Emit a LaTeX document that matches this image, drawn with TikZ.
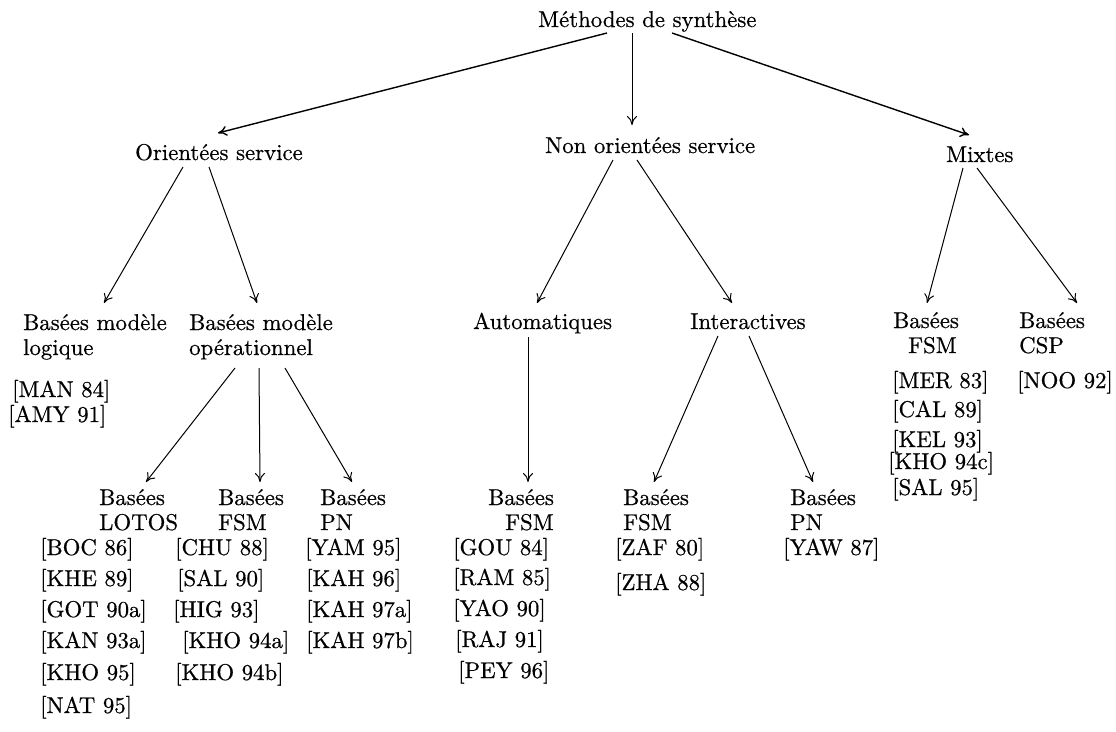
\documentclass[tikz,border=0pt]{standalone}
\usepackage{fontspec}
\setmainfont{lmroman10-regular}[Extension=.otf, FakeBold=0.6]
\usetikzlibrary{arrows.meta}

\begin{document}
\begin{tikzpicture}[x = 1pt, y = -1pt, font=\fontsize{22.8}{25}\selectfont]
	\tikzstyle{lbl} = [inner sep = 0pt, anchor = base west, align = left]
	\tikzstyle{arr} = [line width = 1pt, -{To[length = 9pt, width = 10pt]}]
	\tikzstyle{toparr} = [arr, line width = 1.4pt]
	\useasboundingbox (0,0) rectangle (1116,731);
	% levels (multi-line labels sit on the baseline of their last line)
	\node[lbl] (meth) at (538,27) {Méthodes de synthèse};
	\node[lbl] (os) at (135,160) {Orientées service};
	\node[lbl] (nos) at (545,153) {Non orientées service};
	\node[lbl] (mix) at (946,162) {Mixtes};
	\node[lbl] (bml) at (23,355) {Basées modèle\\logique};
	\node[lbl] (bmo) at (189,355) {Basées modèle\\opérationnel};
	\node[lbl] (auto) at (473,329) {Automatiques};
	\node[lbl] (inter) at (690,329) {Interactives};
	\node[lbl] (mfsm) at (893,353) {Basées\\\hspace*{15pt}FSM};
	\node[lbl] (mcsp) at (1019,353) {Basées\\CSP};
	\node[lbl] (lotos) at (99,530) {Basées\\LOTOS};
	\node[lbl] (ofsm) at (218,530) {Basées\\FSM};
	\node[lbl] (opn) at (320,530) {Basées\\PN};
	\node[lbl] (afsm) at (488,530) {Basées\\\hspace*{17pt}FSM};
	\node[lbl] (ifsm) at (623,530) {Basées\\FSM};
	\node[lbl] (ipn) at (790,530) {Basées\\PN};
	% references
	\node[lbl] (man) at (12,397) {[MAN 84]};
	\node[lbl] (amy) at (8,422) {[AMY 91]};
	\node[lbl] (boc) at (40,555) {[BOC 86]};
	\node[lbl] (khe) at (40,586) {[KHE 89]};
	\node[lbl] (got) at (40,617) {[GOT 90a]};
	\node[lbl] (kan) at (40,648) {[KAN 93a]};
	\node[lbl] (khoA) at (40,680) {[KHO 95]};
	\node[lbl] (nat) at (40,713) {[NAT 95]};
	\node[lbl] (chu) at (175,555) {[CHU 88]};
	\node[lbl] (salA) at (177,586) {[SAL 90]};
	\node[lbl] (hig) at (173,617) {[HIG 93]};
	\node[lbl] (khoB) at (182,648) {[KHO 94a]};
	\node[lbl] (khoC) at (175,680) {[KHO 94b]};
	\node[lbl] (yam) at (305,555) {[YAM 95]};
	\node[lbl] (kahA) at (306,586) {[KAH 96]};
	\node[lbl] (kahB) at (306,617) {[KAH 97a]};
	\node[lbl] (kahC) at (306,648) {[KAH 97b]};
	\node[lbl] (gou) at (453,555) {[GOU 84]};
	\node[lbl] (ram) at (453,585) {[RAM 85]};
	\node[lbl] (yao) at (453,616) {[YAO 90]};
	\node[lbl] (raj) at (455,647) {[RAJ 91]};
	\node[lbl] (pey) at (458,678) {[PEY 96]};
	\node[lbl] (zaf) at (615,555) {[ZAF 80]};
	\node[lbl] (zha) at (615,590) {[ZHA 88]};
	\node[lbl] (yaw) at (783,555) {[YAW 87]};
	\node[lbl] (mer) at (892,388) {[MER 83]};
	\node[lbl] (cal) at (892,417) {[CAL 89]};
	\node[lbl] (kel) at (892,447) {[KEL 93]};
	\node[lbl] (khoD) at (888,469) {[KHO 94c]};
	\node[lbl] (salB) at (892,495) {[SAL 95]};
	\node[lbl] (noo) at (1017,388) {[NOO 92]};
	% arrows
	\draw[toparr] ([shift={(69,6)}]meth.base west) -- ([shift={(83,-27)}]os.base west);
	\draw[arr] ([shift={(94,6)}]meth.base west) -- ([shift={(87,-28)}]nos.base west);
	\draw[toparr] ([shift={(134,6)}]meth.base west) -- ([shift={(23,-27)}]mix.base west);
	\draw[arr] ([shift={(48,7)}]os.base west) -- ([shift={(81,-52)}]bml.base west);
	\draw[arr] ([shift={(74,7)}]os.base west) -- ([shift={(68,-52)}]bmo.base west);
	\draw[arr] ([shift={(68,7)}]nos.base west) -- ([shift={(64,-26)}]auto.base west);
	\draw[arr] ([shift={(92,7)}]nos.base west) -- ([shift={(42,-26)}]inter.base west);
	\draw[arr] ([shift={(17,6)}]mix.base west) -- ([shift={(34,-50)}]mfsm.base west);
	\draw[arr] ([shift={(31,6)}]mix.base west) -- ([shift={(58,-50)}]mcsp.base west);
	\draw[arr] ([shift={(46,13)}]bmo.base west) -- ([shift={(47,-48)}]lotos.base west);
	\draw[arr] ([shift={(70,13)}]bmo.base west) -- ([shift={(42,-48)}]ofsm.base west);
	\draw[arr] ([shift={(96,13)}]bmo.base west) -- ([shift={(32,-48)}]opn.base west);
	\draw[arr] ([shift={(55,8)}]auto.base west) -- ([shift={(40,-48)}]afsm.base west);
	\draw[arr] ([shift={(28,7)}]inter.base west) -- ([shift={(31,-48)}]ifsm.base west);
	\draw[arr] ([shift={(59,7)}]inter.base west) -- ([shift={(23,-48)}]ipn.base west);
\end{tikzpicture}
\end{document}
